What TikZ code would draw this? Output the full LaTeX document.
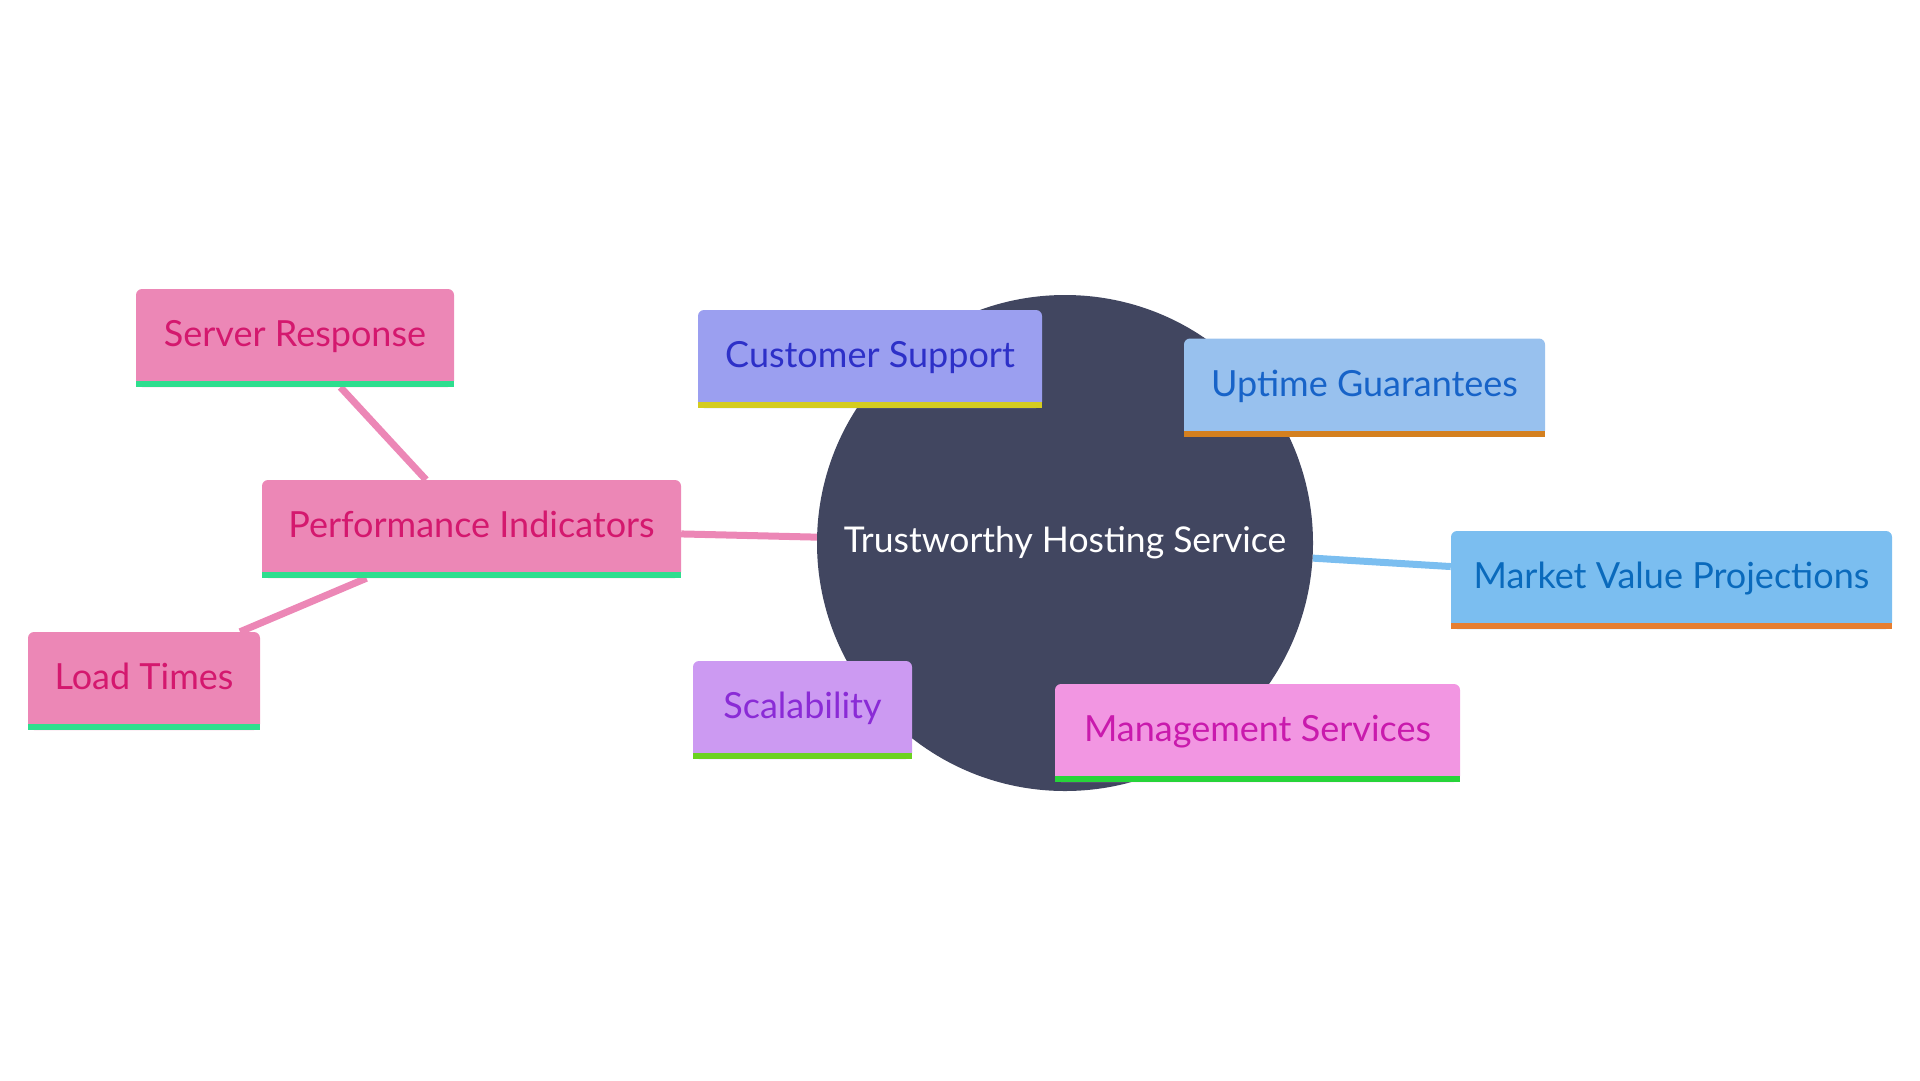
\documentclass[tikz,border=0pt]{standalone}
\usepackage{fontspec}
\setmainfont{Lato}
\usetikzlibrary{backgrounds}
\definecolor{rootfill}{HTML}{414660}
\definecolor{pinkfill}{HTML}{EC87B6}
\definecolor{pinktext}{HTML}{D4186E}
\definecolor{pinkbar}{HTML}{2EDE8E}
\definecolor{csfill}{HTML}{9B9FF0}
\definecolor{cstext}{HTML}{2D30C8}
\definecolor{csbar}{HTML}{D4CC20}
\definecolor{ugfill}{HTML}{98C1EE}
\definecolor{ugtext}{HTML}{1763C8}
\definecolor{ugbar}{HTML}{D4801F}
\definecolor{mvfill}{HTML}{7BBEF0}
\definecolor{mvtext}{HTML}{0A6ABC}
\definecolor{mvbar}{HTML}{E67E30}
\definecolor{msfill}{HTML}{F296E2}
\definecolor{mstext}{HTML}{C91AAD}
\definecolor{msbar}{HTML}{27D43A}
\definecolor{scfill}{HTML}{CC9AF2}
\definecolor{sctext}{HTML}{8A2BD6}
\definecolor{scbar}{HTML}{6CD220}
\tikzset{
  mbox/.style={rectangle, rounded corners=6pt, minimum height=98pt, inner sep=0pt,
    text height=26pt, text depth=9pt,
    font=\fontsize{36}{42}\selectfont},
  rootnode/.style={circle, fill=rootfill, text=white, minimum size=496pt, inner sep=0pt,
    font=\fontsize{35.5}{42}\selectfont},
  pinkedge/.style={draw=pinkfill, line width=7pt},
  blueedge/.style={draw=mvfill, line width=7pt},
}
\newcommand\botbar[2]{\fill[#2] (#1.south west) rectangle ([yshift=6pt]#1.south east);}
\begin{document}
\begin{tikzpicture}[x=1pt,y=-1pt]
\useasboundingbox (0,0) rectangle (1920,1080);
\node[rootnode] (root) at (1065,543) {Trustworthy Hosting Service};
\node[mbox, fill=csfill, text=cstext, minimum width=344pt] (cs) at (870,359) {Customer Support};
\botbar{cs}{csbar}
\node[mbox, fill=ugfill, text=ugtext, minimum width=361pt] (ug) at (1364.5,387.5) {Uptime Guarantees};
\botbar{ug}{ugbar}
\node[mbox, fill=mvfill, text=mvtext, minimum width=441pt] (mv) at (1671.5,580) {Market Value Projections};
\botbar{mv}{mvbar}
\node[mbox, fill=msfill, text=mstext, minimum width=405pt] (ms) at (1257.5,733) {Management Services};
\botbar{ms}{msbar}
\node[mbox, fill=scfill, text=sctext, minimum width=219pt] (sc) at (802.5,710) {Scalability};
\botbar{sc}{scbar}
\node[mbox, fill=pinkfill, text=pinktext, minimum width=419pt] (pi) at (471.5,529) {Performance Indicators};
\botbar{pi}{pinkbar}
\node[mbox, fill=pinkfill, text=pinktext, minimum width=318pt] (sr) at (295,338) {Server Response};
\botbar{sr}{pinkbar}
\node[mbox, fill=pinkfill, text=pinktext, minimum width=232pt] (lt) at (144,681) {Load Times};
\botbar{lt}{pinkbar}
\begin{scope}[on background layer]
\draw[pinkedge] (root) -- (pi);
\draw[blueedge] (root) -- (mv);
\draw[pinkedge] (pi) -- (sr);
\draw[pinkedge] ([xshift=-105pt]pi.south) -- ([xshift=96pt]lt.north);
\end{scope}
\end{tikzpicture}
\end{document}
